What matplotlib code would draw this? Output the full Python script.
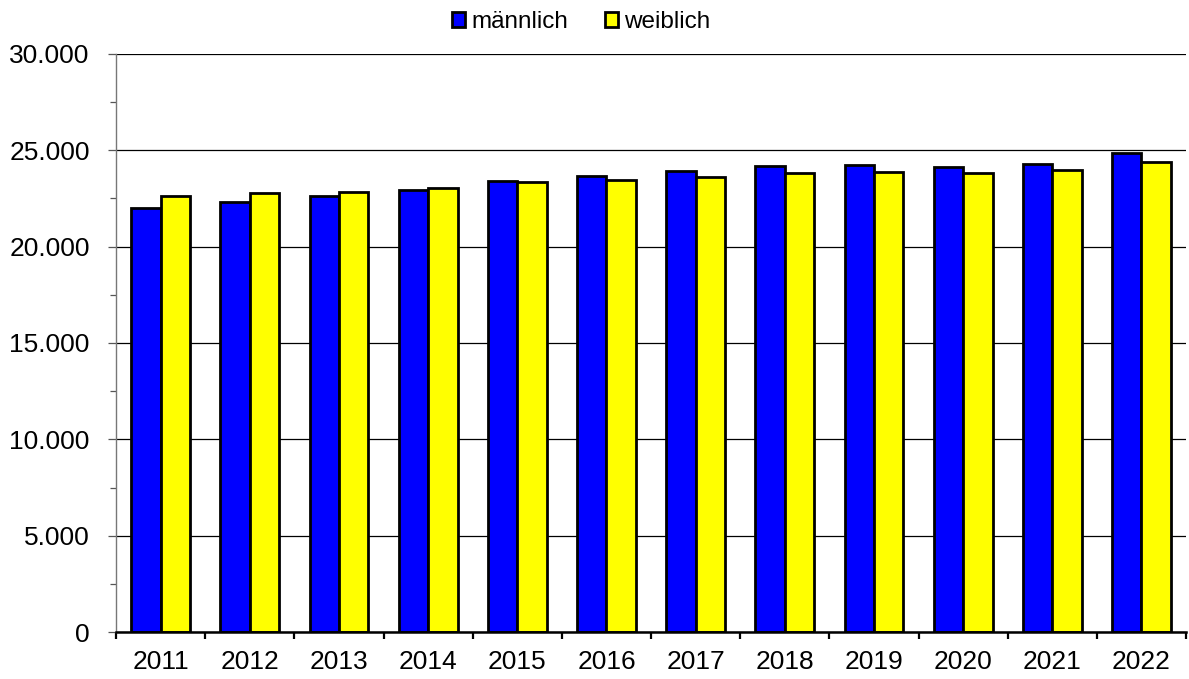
"""Bar chart: männlich vs. weiblich, 2011-2022"""
import numpy as np
import matplotlib.pyplot as plt
from matplotlib.ticker import FuncFormatter, MultipleLocator

years = ["2011", "2012", "2013", "2014", "2015", "2016",
         "2017", "2018", "2019", "2020", "2021", "2022"]
maennlich = [22000, 22340, 22630, 22960, 23430, 23690,
             23950, 24200, 24260, 24130, 24290, 24880]
weiblich = [22630, 22770, 22860, 23060, 23380, 23460,
            23630, 23840, 23860, 23810, 23960, 24380]

plt.rcParams['font.family'] = ['Liberation Sans', 'DejaVu Sans']


def thousands(v, _pos):
    return f"{int(v):,}".replace(",", ".")


def main():
    fig = plt.figure(figsize=(11.89, 6.79), dpi=100)
    ax = fig.add_axes([0.0976, 0.0692, 0.8999, 0.8513])

    x = np.arange(len(years))
    w = 0.33
    ax.bar(x - w / 2, maennlich, w, color="#0000FF", edgecolor="black",
           linewidth=2.0, label="männlich", zorder=3)
    ax.bar(x + w / 2, weiblich, w, color="#FFFF00", edgecolor="black",
           linewidth=2.0, label="weiblich", zorder=3)

    ax.set_xlim(-0.5, len(years) - 0.5)
    ax.set_ylim(0, 30000)
    ax.yaxis.set_major_locator(MultipleLocator(5000))
    ax.yaxis.set_minor_locator(MultipleLocator(2500))
    ax.yaxis.set_major_formatter(FuncFormatter(thousands))
    ax.grid(axis="y", which="major", color="black", linewidth=0.9, zorder=0)

    # category labels centred, ticks between categories
    ax.set_xticks(x)
    ax.set_xticklabels(years)
    ax.set_xticks(np.arange(len(years) + 1) - 0.5, minor=True)
    ax.tick_params(axis="x", which="major", length=0, labelsize=19, pad=13)
    ax.tick_params(axis="x", which="minor", length=5, width=1.6, color="black")
    ax.tick_params(axis="y", which="major", length=6, width=0.9, color="#555555",
                   labelsize=19, pad=13)
    ax.tick_params(axis="y", which="minor", length=4.5, width=0.9, color="#555555")

    for side in ("top", "right"):
        ax.spines[side].set_visible(False)
    ax.spines["left"].set_color("#777777")
    ax.spines["left"].set_linewidth(1.0)
    ax.spines["bottom"].set_color("black")
    ax.spines["bottom"].set_linewidth(1.8)
    ax.spines["bottom"].set_zorder(4)

    fig.legend(loc="center", bbox_to_anchor=(581 / 1189, 1 - 22 / 679), ncol=2,
               frameon=False, fontsize=17.5, handlelength=0.55, handleheight=0.55,
               handletextpad=0.25, columnspacing=1.5)

    fig.savefig("out.png", dpi=100)


if __name__ == "__main__":
    main()
